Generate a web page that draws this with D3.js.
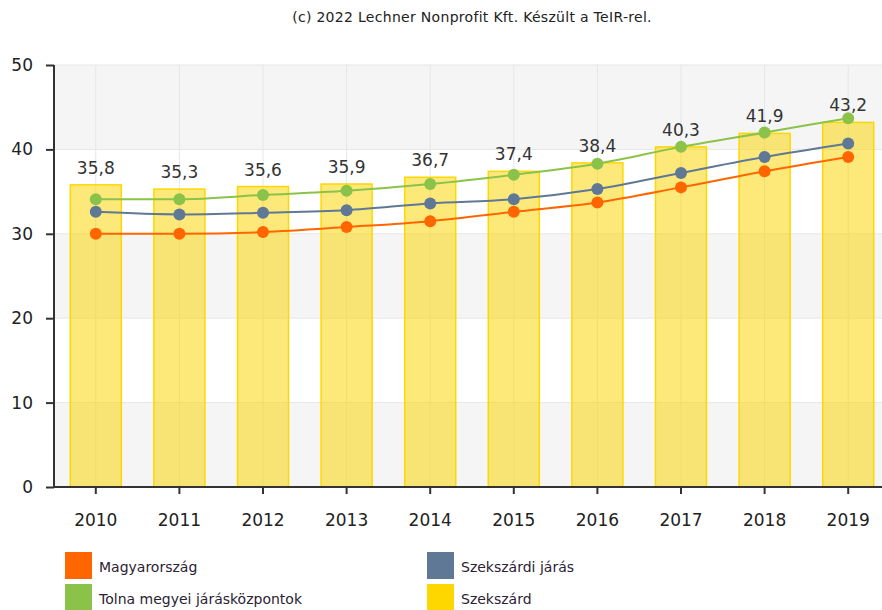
<!DOCTYPE html>
<html>
<head>
<meta charset="utf-8">
<script src="https://cdn.jsdelivr.net/npm/d3@7"></script>
<style>
  html, body { margin: 0; padding: 0; background: #fff; }
  svg { display: block; overflow: hidden; font-family: "DejaVu Sans", Verdana, sans-serif; }
</style>
</head>
<body>
<svg id="chart" width="882" height="610"></svg>
<script>
// Years on the category axis
const years = ["2010", "2011", "2012", "2013", "2014", "2015", "2016", "2017", "2018", "2019"];

// Bar series: Szekszárd
const szekszard = [35.8, 35.3, 35.6, 35.9, 36.7, 37.4, 38.4, 40.3, 41.9, 43.2];

// Line series
const magyarorszag = [30.0, 30.0, 30.2, 30.8, 31.5, 32.6, 33.7, 35.5, 37.4, 39.1];
const szekszardiJaras = [32.6, 32.3, 32.5, 32.8, 33.6, 34.1, 35.3, 37.2, 39.1, 40.7];
const tolnaKozpontok = [34.1, 34.1, 34.6, 35.1, 35.9, 37.0, 38.3, 40.3, 42.0, 43.7];

const yTicks = [0, 10, 20, 30, 40, 50];

const legendItems = [
  { name: "Magyarország", color: "#ff6600" },
  { name: "Szekszárdi járás", color: "#5f7896" },
  { name: "Tolna megyei járásközpontok", color: "#8bc34a" },
  { name: "Szekszárd", color: "#ffd700" }
];

const svg = d3.select("#chart");
const plotLeft = 54, plotRight = 890, plotTop = 65, plotBottom = 487;
const fontStack = "\"DejaVu Sans\", Verdana, sans-serif";

const x = d3.scaleBand().domain(years).range([plotLeft, plotRight])
  .paddingInner(0.39).paddingOuter(0.195);
const cx = d => x(d) + x.bandwidth() / 2;
const y = d3.scaleLinear().domain([0, 50]).range([plotBottom, plotTop]);

// Alternating background bands
const bands = [[0, 10], [20, 30], [40, 50]];
svg.append("g").selectAll("rect").data(bands).join("rect")
  .attr("x", plotLeft).attr("width", plotRight - plotLeft)
  .attr("y", d => y(d[1])).attr("height", d => y(d[0]) - y(d[1]))
  .attr("fill", "#f5f5f5");

// Grid lines
svg.append("g").selectAll("line").data(yTicks.slice(1)).join("line")
  .attr("x1", plotLeft).attr("x2", plotRight)
  .attr("y1", d => y(d)).attr("y2", d => y(d))
  .attr("stroke", "#e6e6e6").attr("stroke-width", 1);
svg.append("g").selectAll("line").data(years).join("line")
  .attr("x1", d => cx(d)).attr("x2", d => cx(d))
  .attr("y1", plotTop).attr("y2", plotBottom)
  .attr("stroke", "#e6e6e6").attr("stroke-width", 1);

// Bars
svg.append("g").selectAll("rect").data(years).join("rect")
  .attr("x", d => x(d)).attr("width", x.bandwidth())
  .attr("y", (d, i) => y(szekszard[i]))
  .attr("height", (d, i) => y(0) - y(szekszard[i]))
  .attr("fill", "#fbd400").attr("fill-opacity", 0.52)
  .attr("stroke", "#ffd700").attr("stroke-width", 1.5);

// Bar value labels
svg.append("g").selectAll("text").data(years).join("text")
  .attr("x", d => cx(d))
  .attr("y", (d, i) => y(szekszard[i]) - 11)
  .attr("text-anchor", "middle")
  .attr("font-size", 17).attr("fill", "#333")
  .text((d, i) => String(szekszard[i]).replace(".", ","));

// Lines with markers
const lineSeries = [
  { values: magyarorszag, color: "#ff6600" },
  { values: szekszardiJaras, color: "#5f7896" },
  { values: tolnaKozpontok, color: "#8bc34a" }
];
const line = d3.line().x((d, i) => cx(years[i])).y(d => y(d)).curve(d3.curveMonotoneX);
lineSeries.forEach(s => {
  const g = svg.append("g");
  g.append("path").attr("d", line(s.values))
    .attr("fill", "none").attr("stroke", s.color).attr("stroke-width", 2);
  g.selectAll("circle").data(s.values).join("circle")
    .attr("cx", (d, i) => cx(years[i])).attr("cy", d => y(d))
    .attr("r", 6).attr("fill", s.color);
});

// Axes
const yAxis = svg.append("g").attr("transform", `translate(${plotLeft},0)`)
  .call(d3.axisLeft(y).tickValues(yTicks).tickSize(8).tickPadding(13));
const xAxis = svg.append("g").attr("transform", `translate(0,${plotBottom})`)
  .call(d3.axisBottom(x).tickSize(7).tickPadding(20).tickSizeOuter(0));
[yAxis, xAxis].forEach(a => {
  a.select(".domain").attr("stroke", "#333").attr("stroke-width", 2);
  a.selectAll(".tick line").attr("stroke", "#333").attr("stroke-width", 2);
  a.selectAll("text").attr("font-size", 17).attr("fill", "#222")
    .attr("font-family", fontStack);
});
xAxis.select(".domain").attr("d", `M${plotLeft},0H${plotRight}`);
yAxis.select(".domain").attr("d", `M0,${plotTop}V${plotBottom}`);

// Credit line
svg.append("text").attr("x", 472).attr("y", 22)
  .attr("text-anchor", "middle").attr("font-size", 14)
  .attr("letter-spacing", 0.3).attr("fill", "#222")
  .text("(c) 2022 Lechner Nonprofit Kft. Készült a TeIR-rel.");

// Legend
const lg = svg.append("g").selectAll("g").data(legendItems).join("g")
  .attr("transform", (d, i) => `translate(${i % 2 === 0 ? 65 : 427},${i < 2 ? 552 : 584})`);
lg.append("rect").attr("width", 27).attr("height", 27).attr("fill", d => d.color);
lg.append("text").attr("x", 34).attr("y", 15).attr("dy", "0.35em")
  .attr("font-size", 14).attr("fill", "#2b2233").text(d => d.name);
</script>
</body>
</html>
